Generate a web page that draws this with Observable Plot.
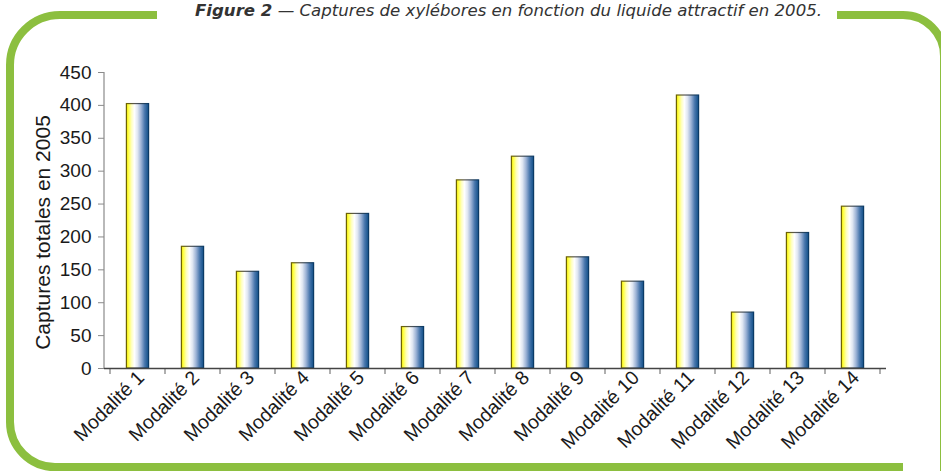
<!DOCTYPE html>
<html>
<head>
<meta charset="utf-8">
<script src="https://cdn.jsdelivr.net/npm/d3@7"></script>
<script src="https://cdn.jsdelivr.net/npm/@observablehq/plot@0.6"></script>
<style>
  html, body { margin: 0; padding: 0; background: #fff; overflow: hidden; }
  #wrap { position: relative; width: 941px; height: 471px; }
  #chart { position: absolute; left: 0; top: 0; }
  #deco { position: absolute; left: 0; top: 0; pointer-events: none; }
</style>
</head>
<body>
<div id="wrap">
  <div id="chart"></div>
  <svg id="deco" width="941" height="471"></svg>
</div>
<script>
// ---- data ----
const categories = ["Modalité 1","Modalité 2","Modalité 3","Modalité 4","Modalité 5","Modalité 6","Modalité 7",
                    "Modalité 8","Modalité 9","Modalité 10","Modalité 11","Modalité 12","Modalité 13","Modalité 14"];
const captures = [402, 185, 147, 160, 235, 63, 286, 322, 169, 132, 415, 85, 206, 246];
const yTicks = [0, 50, 100, 150, 200, 250, 300, 350, 400, 450];
const yLabel = "Captures totales en 2005";
const titleBold = "Figure 2";
const titleText = "Captures de xylébores en fonction du liquide attractif en 2005.";

const data = categories.map((c, i) => ({cat: c, value: captures[i]}));

// custom mark: gradient defs, axis lines, ticks at band edges
function frameLines(index, scales, values, dims) {
  const g = d3.create("svg:g");
  const defs = g.append("defs");
  const grad = defs.append("linearGradient").attr("id", "barGrad").attr("x1", "0").attr("x2", "1").attr("y1", "0").attr("y2", "0");
  [[0, "#e8dc10"], [0.08, "#ffff3a"], [0.22, "#ffffb8"], [0.36, "#ffffff"], [0.5, "#dfe6f2"], [0.66, "#9db3d6"], [0.82, "#4a78ae"], [1, "#0f4d86"]]
    .forEach(([o, c]) => grad.append("stop").attr("offset", o).attr("stop-color", c));
  const sgrad = defs.append("linearGradient").attr("id", "barStroke").attr("x1", "0").attr("x2", "1").attr("y1", "0").attr("y2", "0");
  [[0, "#6e6400"], [0.4, "#555555"], [1, "#0a3a66"]]
    .forEach(([o, c]) => sgrad.append("stop").attr("offset", o).attr("stop-color", c));

  const x = scales.x;
  const bw = typeof x.bandwidth === "function" ? x.bandwidth() : (scales.scales && scales.scales.x ? scales.scales.x.bandwidth : 0);
  const dom = typeof x.domain === "function" ? x.domain() : categories;
  const left = dims.marginLeft;
  const top = dims.marginTop, bottom = dims.height - dims.marginBottom;
  const edges = dom.map(d => x(d)).concat([x(dom[dom.length - 1]) + bw]);
  // y axis line
  g.append("line").attr("x1", left).attr("x2", left).attr("y1", top).attr("y2", bottom)
    .attr("stroke", "#8a8a8a").attr("stroke-width", 1.2);
  // x tick marks at band edges
  edges.forEach(e => g.append("line").attr("x1", e).attr("x2", e).attr("y1", bottom).attr("y2", bottom + 6)
    .attr("stroke", "#7a7a7a").attr("stroke-width", 1.2));
  return g.node();
}

const plot = Plot.plot({
  width: 941,
  height: 471,
  marginLeft: 104,
  marginRight: 55,
  marginTop: 72,
  marginBottom: 103,
  style: {fontFamily: "'Liberation Sans', Arial, sans-serif", fontSize: "19px", color: "#1a1a1a", background: "transparent"},
  x: {type: "band", domain: categories, padding: 0, axis: null},
  y: {domain: [0, 450], axis: null},
  marks: [
    frameLines,
    Plot.barY(data, {x: "cat", y: "value", fill: "url(#barGrad)", stroke: "url(#barStroke)", strokeWidth: 1.2, insetLeft: 16.4, insetRight: 16.4}),
    Plot.ruleY([0], {stroke: "#444", strokeWidth: 1.3}),
    Plot.axisY({ticks: yTicks, tickSize: 6, tickPadding: 7, stroke: "#8a8a8a", fill: "#1a1a1a", fontSize: 19, label: null}),
    Plot.axisX({tickSize: 0, tickRotate: -45, tickPadding: 6, dx: 3, fill: "#1a1a1a", fontSize: 19.5, label: null}),
    Plot.text([yLabel], {frameAnchor: "left", rotate: -90, dx: -55, dy: 12, lineAnchor: "bottom", textAnchor: "middle", fontSize: 21, fill: "#1a1a1a"})
  ]
});
document.getElementById("chart").appendChild(plot);

// decorative green frame and figure title
const deco = d3.select("#deco");
const green = "#8cbf3f";
deco.append("path").attr("d", "M157,15 H60 A50,50 0 0 0 10,65 V422 A45,45 0 0 0 55,467 H903")
  .attr("fill", "none").attr("stroke", green).attr("stroke-width", 8);
deco.append("path").attr("d", "M837,15 H903 A41,41 0 0 1 944,56 V480")
  .attr("fill", "none").attr("stroke", green).attr("stroke-width", 8);
const t = deco.append("text").attr("x", 195).attr("y", 16)
  .attr("font-family", "'DejaVu Sans', sans-serif").attr("font-size", 15.5).attr("font-style", "italic")
  .attr("fill", "#333").attr("textLength", 627).attr("lengthAdjust", "spacingAndGlyphs");
t.append("tspan").attr("font-weight", "bold").text(titleBold);
t.append("tspan").text(" \u2014 " + titleText);
</script>
</body>
</html>
